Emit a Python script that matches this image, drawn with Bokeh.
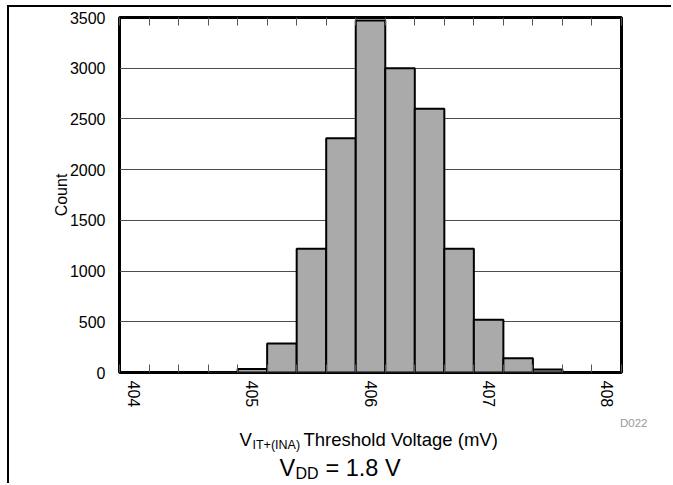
from bokeh.plotting import figure
from bokeh.models import FixedTicker, LinearAxis, Range1d
from bokeh.layouts import column
from bokeh.core.properties import value
from bokeh.embed import file_html
from bokeh.resources import INLINE

# ---- data ----
bin_centers = [404.0, 404.25, 404.5, 404.75, 405.0, 405.25, 405.5, 405.75, 406.0,
               406.25, 406.5, 406.75, 407.0, 407.25, 407.5, 407.75, 408.0]
counts = [0, 0, 0, 5, 35, 285, 1220, 2310, 3470,
          3000, 2600, 1220, 520, 140, 30, 3, 0]
bin_width = 0.25
x_tick_labels = [404, 405, 406, 407, 408]
y_ticks = [0, 500, 1000, 1500, 2000, 2500, 3000, 3500]

FONT = "Liberation Sans"

edges = [c - bin_width / 2 for c in bin_centers] + [bin_centers[-1] + bin_width / 2]

W = 664
BL, BR, BT, BB = 110, 52, 10, 40
H1 = 405
FRAME_W = W - BL - BR

p = figure(width=W, height=H1, output_backend="svg", toolbar_location=None,
           x_range=Range1d(edges[0], edges[-1]), y_range=Range1d(0, 3500),
           min_border_left=BL, min_border_right=BR, min_border_top=BT, min_border_bottom=BB,
           x_axis_type=None)
p.frame_align = False
p.background_fill_color = "white"
p.border_fill_color = "white"
p.outline_line_color = "black"
p.outline_line_width = 3

p.vbar(x=bin_centers, top=counts, width=bin_width, bottom=0,
       fill_color="#aaaaaa", line_color="black", line_width=2)

# bottom axis: labels at bin centres, minor ticks at bin edges
xb = LinearAxis(ticker=FixedTicker(ticks=x_tick_labels, minor_ticks=edges))
xb.axis_line_color = None
xb.major_tick_line_color = None
xb.major_tick_in = 0
xb.major_tick_out = 0
xb.minor_tick_in = 8
xb.minor_tick_out = 0
xb.minor_tick_line_color = "#555555"
xb.major_label_orientation = "vertical"
xb.major_label_standoff = 8
xb.major_label_text_font = FONT
xb.major_label_text_font_size = "16px"
xb.major_label_text_color = "black"
p.add_layout(xb, "below")

xt = LinearAxis(ticker=FixedTicker(ticks=[], minor_ticks=edges))
xt.axis_line_color = None
xt.major_tick_line_color = None
xt.minor_tick_in = 8
xt.minor_tick_out = 0
xt.minor_tick_line_color = "#555555"
xt.major_label_text_font_size = "0px"
p.add_layout(xt, "above")

ya = p.yaxis[0]
ya.ticker = FixedTicker(ticks=y_ticks)
ya.axis_line_color = None
ya.major_tick_line_color = None
ya.minor_tick_line_color = None
ya.major_label_standoff = 8
ya.major_label_text_font = FONT
ya.major_label_text_font_size = "16px"
ya.major_label_text_color = "black"
ya.axis_label = "Count"
ya.axis_label_text_font = FONT
ya.axis_label_text_font_size = "16px"
ya.axis_label_text_font_style = "normal"
ya.axis_label_text_color = "black"
ya.axis_label_standoff = -3

p.xgrid.visible = False
p.ygrid.ticker = FixedTicker(ticks=y_ticks)
p.ygrid.grid_line_color = "#4d4d4d"
p.ygrid.grid_line_width = 1

# ---- second strip with texts below the plot (pixel coordinates) ----
H2 = 73
p2 = figure(width=W, height=H2, output_backend="svg", toolbar_location=None,
            x_range=Range1d(0, W), y_range=Range1d(0, H2),
            min_border=0, x_axis_type=None, y_axis_type=None)
p2.frame_align = False
p2.outline_line_color = None
p2.xgrid.visible = False
p2.ygrid.visible = False
p2.background_fill_color = "white"
p2.border_fill_color = "white"

xc = BL + FRAME_W / 2

def lab(text, xo, y, size, color="black", align="left"):
    p2.text(x=[xc + xo], y=[y], text=[text], text_font=value(FONT),
            text_font_size=size, text_color=color, text_align=align,
            text_baseline="middle")

lab("V", -131, 46, "18.5px")
lab("IT+(INA)", -118, 41, "12.5px")
lab("Threshold Voltage (mV)", -67, 46, "18.5px")

lab("V", -91, 18, "23.5px")
lab("DD", -75, 12, "16px")
lab("= 1.8 V", -45, 18, "23.5px")

p2.text(x=[BL + FRAME_W + 26], y=[63], text=["D022"], text_font=value(FONT),
        text_font_size="11.5px", text_color="#999999", text_align="right",
        text_baseline="middle")

lay = column(p, p2, spacing=0, width=W, height=H1 + H2)
lay.styles = {"margin-left": "9px", "margin-top": "7px", "overflow": "hidden",
              "box-shadow": "-2px -2px 0px 0px black"}

open("out.html", "w").write(file_html(lay, INLINE))
